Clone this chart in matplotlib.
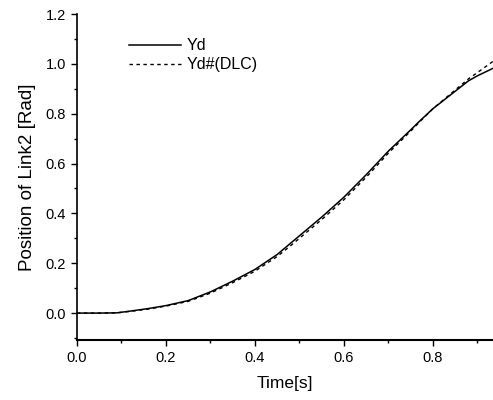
import matplotlib
matplotlib.use("Agg")
import matplotlib.pyplot as plt
from matplotlib.ticker import MultipleLocator

t = [0.0, 0.05, 0.09, 0.12, 0.16, 0.20, 0.25, 0.30, 0.35, 0.40, 0.45, 0.48, 0.50,
     0.55, 0.60, 0.65, 0.68, 0.70, 0.75, 0.77, 0.80, 0.85, 0.88, 0.90, 0.935]
yd = [0.0, 0.0, 0.001, 0.008, 0.018, 0.030, 0.050, 0.085, 0.128, 0.175, 0.235, 0.280, 0.310,
      0.385, 0.465, 0.555, 0.612, 0.650, 0.735, 0.770, 0.820, 0.890, 0.932, 0.952, 0.982]
yd_dlc = [0.0, 0.0, 0.001, 0.007, 0.016, 0.028, 0.047, 0.080, 0.122, 0.168, 0.227, 0.270, 0.300,
          0.375, 0.455, 0.545, 0.603, 0.642, 0.730, 0.767, 0.820, 0.895, 0.940, 0.965, 1.010]

plt.rcParams['font.family'] = ['Liberation Sans', 'DejaVu Sans']

fig = plt.figure(figsize=(4.93, 4.0), dpi=100)
ax = fig.add_axes([0.156, 0.15, 0.844, 0.815])

ax.plot(t, yd, color='black', lw=1.1, label='Yd')
ax.plot(t, yd_dlc, color='black', lw=1.0, linestyle=(0, (2.5, 2.5)), label='Yd#(DLC)')

ax.set_xlim(0, 0.935)
ax.set_ylim(-0.108, 1.2)
ax.spines['top'].set_visible(False)
ax.spines['right'].set_visible(False)
ax.spines['left'].set_linewidth(1.2)
ax.spines['bottom'].set_linewidth(1.5)

ax.xaxis.set_major_locator(MultipleLocator(0.2))
ax.xaxis.set_minor_locator(MultipleLocator(0.1))
ax.yaxis.set_major_locator(MultipleLocator(0.2))
ax.yaxis.set_minor_locator(MultipleLocator(0.1))
ax.tick_params(which='major', direction='out', length=4, width=1, labelsize=10.5, pad=4)
ax.tick_params(which='minor', direction='out', length=2, width=1)
ax.set_xticks([0.0, 0.2, 0.4, 0.6, 0.8])
ax.set_xticklabels(['0.0', '0.2', '0.4', '0.6', '0.8'])
ax.set_yticks([0.0, 0.2, 0.4, 0.6, 0.8, 1.0, 1.2])
ax.set_yticklabels(['0.0', '0.2', '0.4', '0.6', '0.8', '1.0', '1.2'])

ax.set_xlabel('Time[s]', fontsize=12.5, labelpad=8)
ax.set_ylabel('Position of Link2 [Rad]', fontsize=13.5, labelpad=7)

leg = ax.legend(loc='upper left', bbox_to_anchor=(0.09, 0.97), frameon=False,
                fontsize=11.5, handlelength=3.3, handletextpad=0.3, labelspacing=0.25)

fig.savefig('out.png', dpi=100)
